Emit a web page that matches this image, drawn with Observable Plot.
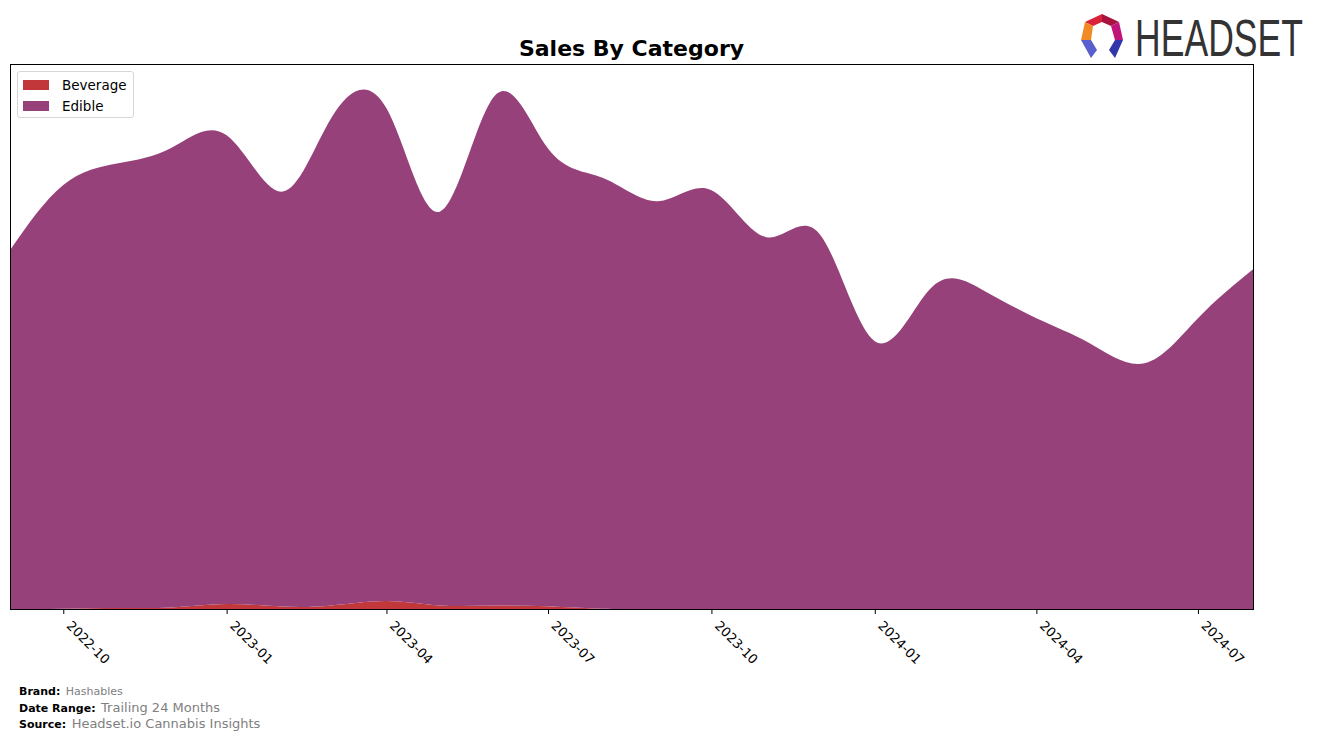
<!DOCTYPE html>
<html>
<head>
<meta charset="utf-8">
<script src="https://cdn.jsdelivr.net/npm/d3@7"></script>
<script src="https://cdn.jsdelivr.net/npm/@observablehq/plot@0.6"></script>
<style>
  html, body { margin:0; padding:0; background:#fff; }
  #page { position:relative; width:1317px; height:738px; overflow:hidden; font-family:"DejaVu Sans", sans-serif; }
  #chart { position:absolute; left:0; top:0; }
  #title { position:absolute; left:0; width:1263px; top:36px; text-align:center; font-weight:bold; font-size:22px; color:#000; }
  #legend { position:absolute; left:17px; top:71px; width:115px; height:45px; border:1px solid #d6d6d6; border-radius:3px; background:#fff; font-size:13.5px; }
  .li { position:absolute; left:5px; height:14px; display:flex; align-items:center; }
  .sw { width:26px; height:10px; margin-right:13px; }
  #footer { position:absolute; left:19px; top:684px; font-size:11px; color:#000; line-height:15.5px; }
  #footer b { font-weight:bold; }
  #footer .g { color:#808080; margin-left:2px; }
  #logo { position:absolute; left:1070px; top:0px; overflow:visible; }
</style>
</head>
<body>
<div id="page">
  <div id="chart"></div>
  <div id="title">Sales By Category</div>
  <div id="legend"></div>
  <div id="footer"></div>
  <svg id="logo" width="247" height="80" viewBox="0 0 247 80"></svg>
</div>
<script>
// ---- data ----
const months = ["2022-09","2022-10","2022-11","2022-12","2023-01","2023-02","2023-03","2023-04",
  "2023-05","2023-06","2023-07","2023-08","2023-09","2023-10","2023-11","2023-12",
  "2024-01","2024-02","2024-03","2024-04","2024-05","2024-06","2024-07","2024-08"];
const categories = ["Beverage", "Edible"];
const beverage = [0, 0.3, 1, 1.5, 5, 2.5, 3.5, 8, 3.5, 3.5, 2.7, 0.2, 0, 0, 0, 0, 0, 0, 0, 0, 0, 0, 0, 0];
const edible = [359, 424, 445, 460, 469, 415, 488, 493, 394, 510, 458, 431, 408, 419, 372, 375,
  268, 320, 320, 291, 266, 246, 291, 340];
const tickLabels = ["2022-10","2023-01","2023-04","2023-07","2023-10","2024-01","2024-04","2024-07"];
const colors = ["#c1373a", "#96417a"];
const footer = [["Brand:", "Hashables", 11], ["Date Range:", "Trailing 24 Months", 13], ["Source:", "Headset.io Cannabis Insights", 13]];

// ---- build ----
const parse = d3.utcParse("%Y-%m");
const series = {Beverage: beverage, Edible: edible};
const data = [];
categories.forEach(c => months.forEach((m, i) => data.push({date: parse(m), category: c, value: series[c][i]})));
const totals = months.map((m, i) => beverage[i] + edible[i]);
const ymax = d3.max(totals) * 1.062;
const ticks = tickLabels.map(parse);

const chart = Plot.plot({
  width: 1317, height: 700,
  marginLeft: 10, marginRight: 64, marginTop: 64, marginBottom: 91,
  style: {fontFamily: "DejaVu Sans, sans-serif", background: "transparent"},
  x: {type: "utc", domain: [parse(months[0]), parse(months[months.length - 1])]},
  y: {axis: null, domain: [0, ymax]},
  color: {domain: categories, range: colors},
  marks: [
    Plot.areaY(data, {x: "date", y: "value", fill: "category", order: categories, curve: "natural", clip: true}),
    Plot.frame({stroke: "#000", strokeWidth: 1}),
    Plot.axisX({ticks, tickSize: 5, tickFormat: () => "", label: null, stroke: "#000"}),
    Plot.axisX({ticks, tickSize: 0, tickFormat: "%Y-%m", tickRotate: 45,
      fontSize: 13, label: null, textAnchor: "start", tickPadding: 11, dx: 5, dy: 3, fill: "#000"})
  ]
});
document.getElementById("chart").appendChild(chart);

// legend
const lg = document.getElementById("legend");
categories.forEach((c, i) => {
  const d = document.createElement("div");
  d.className = "li";
  d.style.top = (6 + i * 21) + "px";
  d.innerHTML = `<span class="sw" style="background:${colors[i]}"></span><span>${c}</span>`;
  lg.appendChild(d);
});

// footer
const ft = document.getElementById("footer");
footer.forEach(([k, v, s]) => {
  const d = document.createElement("div");
  d.innerHTML = `<b>${k}</b> <span class="g" style="font-size:${s}px">${v}</span>`;
  ft.appendChild(d);
});

// logo
const logo = d3.select("#logo");
const oy = 8;
const polys = [
  {pts: [[15,14],[32,6],[32,14],[23,18]], fill: "#d9213a"},
  {pts: [[32,6],[49,14],[41,18],[32,14]], fill: "#a8123e"},
  {pts: [[49,14],[53,32],[45,32],[41,18]], fill: "#c0147a"},
  {pts: [[15,14],[23,18],[21,32],[11,32]], fill: "#f08a24"},
  {pts: [[11,32],[21,32],[27,42],[21,50]], fill: "#5a5fd0"},
  {pts: [[53,32],[45,32],[39,42],[45,50]], fill: "#3236a8"}
];
polys.forEach(p => logo.append("polygon").attr("points", p.pts.map(q => [q[0], q[1] + oy].join(",")).join(" ")).attr("fill", p.fill));
logo.append("text").attr("transform", `translate(65,${48 + oy}) scale(1,1.45)`)
  .attr("font-family", "Liberation Sans Narrow, Liberation Sans, sans-serif")
  .attr("font-size", 36).attr("fill", "#333").attr("textLength", 168).attr("lengthAdjust", "spacingAndGlyphs").text("HEADSET");
</script>
</body>
</html>
